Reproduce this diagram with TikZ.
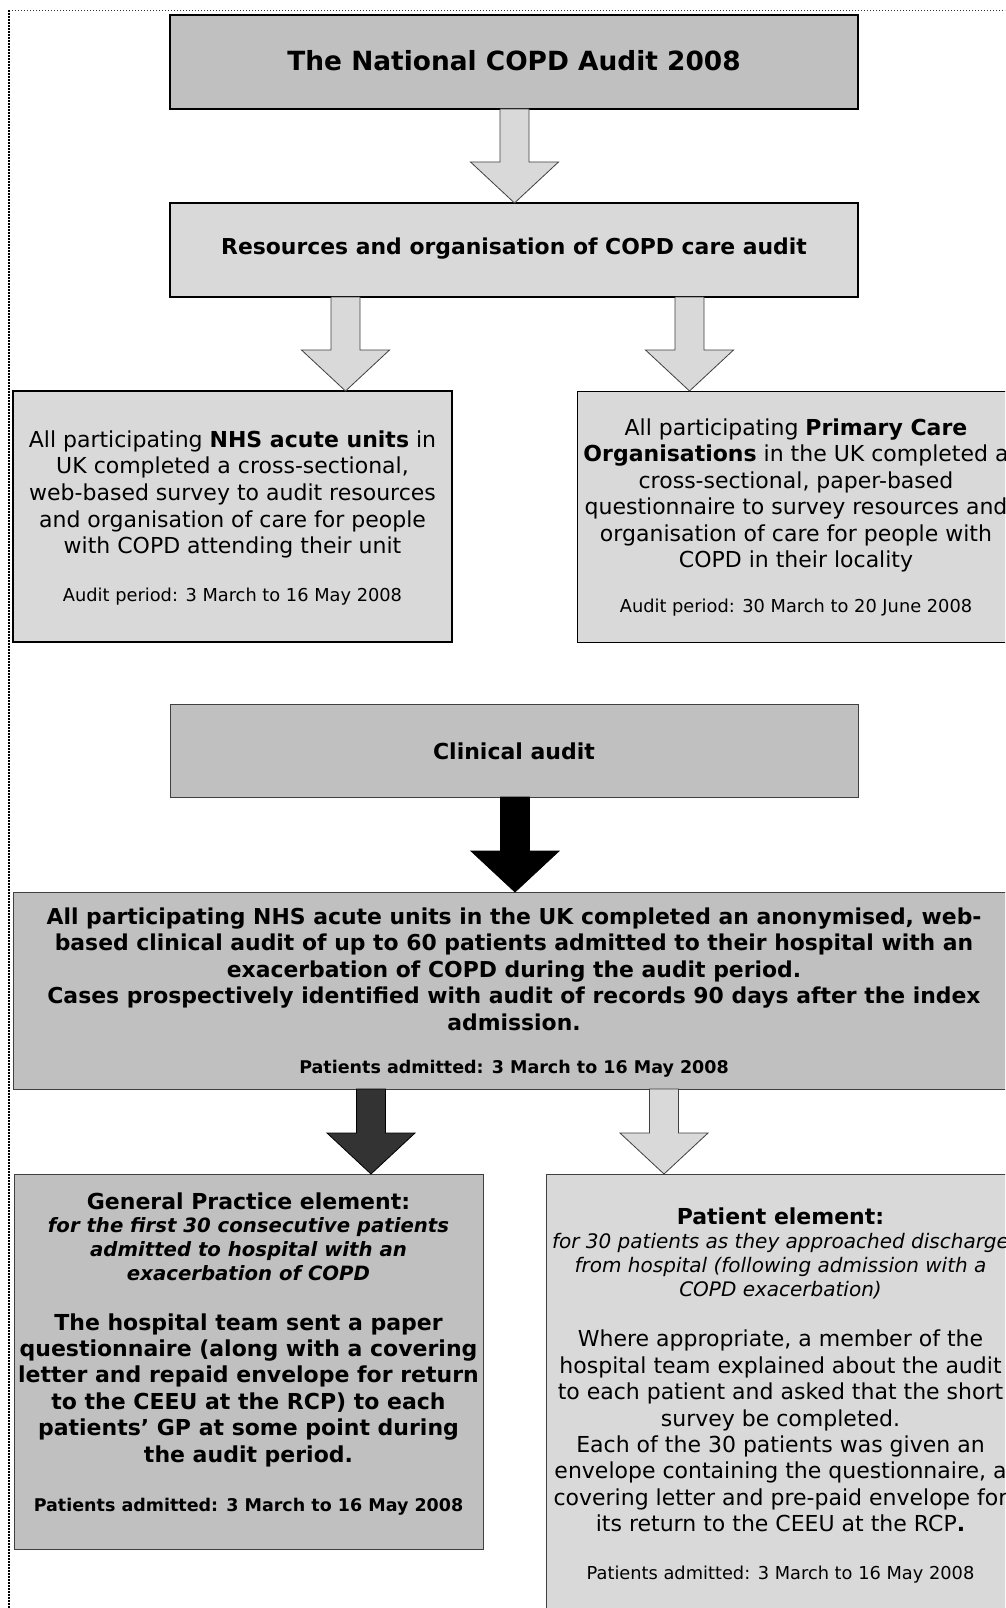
\documentclass[tikz,border=0pt]{standalone}
\usepackage{fontspec}
\setmainfont{DejaVu Sans}
\usetikzlibrary{calc}
\definecolor{gA}{HTML}{C0C0C0}
\definecolor{gB}{HTML}{D9D9D9}
\definecolor{gD}{HTML}{333333}
\definecolor{edge}{HTML}{404040}
\newcommand\fs[2]{\fontsize{#1}{#2}\selectfont}
\newcommand\blockarrow[4]{%
  \path[#1] let \p1=(#3.south), \p2=(#4.north) in
   ({(#2-14.5)*1pt},\y1) -- ({(#2+14.5)*1pt},\y1) -- ({(#2+14.5)*1pt},\y2+41pt)
   -- ({(#2+44)*1pt},\y2+41pt) -- ({#2*1pt},\y2) -- ({(#2-44)*1pt},\y2+41pt)
   -- ({(#2-14.5)*1pt},\y2+41pt) -- cycle;}
\tikzset{
  box/.style={rectangle, draw=black, inner sep=0pt, outer sep=0pt},
  txt/.style={align=center, inner sep=0pt, text=black},
  lightarrow/.style={fill=gB, draw=edge, line width=0.8pt, line join=miter},
  darkarrow/.style={fill=gD, draw=black, line width=0.8pt},
  blackarrow/.style={fill=black, draw=black, line width=0.8pt},
}
\begin{document}
\begin{tikzpicture}[x=1pt,y=-1pt]
\useasboundingbox (0,0) rectangle (1005,1608);
\clip (0,0) rectangle (1005,1608);
\fill[white] (0,0) rectangle (1005,1608);
% page frame
\draw[black!80, line width=0.8pt, dash pattern=on 1pt off 2pt] (9,10) -- (1005,10);
\draw[black, line width=2pt, dash pattern=on 2pt off 1pt] (9,10) -- (9,1608);
% boxes
\node[box, fill=gA, line width=2pt, minimum width=688, minimum height=94] (b1) at (514,62) {};
\node[box, fill=gB, line width=1.6pt, minimum width=688, minimum height=94] (b2) at (514,250) {};
\node[box, fill=gB, line width=2pt, minimum width=439, minimum height=251] (b3) at (232.5,516.5) {};
\node[box, fill=gB, line width=1pt, minimum width=448, minimum height=251] (b4) at (801,516.5) {};
\node[box, fill=gA, line width=1pt, draw=edge, minimum width=688, minimum height=93] (b5) at (514,750.5) {};
\node[box, fill=gA, line width=1pt, draw=edge, minimum width=1012, minimum height=197] (b6) at (519,990.5) {};
\node[box, fill=gA, line width=1pt, draw=edge, minimum width=469, minimum height=375] (b7) at (248.5,1361.5) {};
\node[box, fill=gB, line width=1pt, draw=edge, minimum width=479, minimum height=526] (b8) at (785.5,1437) {};
% arrows
\blockarrow{lightarrow}{514.5}{b1}{b2}
\blockarrow{lightarrow}{345.5}{b2}{b3}
\blockarrow{lightarrow}{689.5}{b2}{b4}
\blockarrow{blackarrow}{515}{b5}{b6}
\blockarrow{darkarrow}{371}{b6}{b7}
\blockarrow{lightarrow}{664}{b6}{b8}
% texts
\node[txt, font=\fs{26.4}{30}\bfseries] (t1) at (514,61) {The National COPD Audit 2008};
\node[txt, font=\fs{21.9}{24}\bfseries] (t2) at (514,249) {Resources and organisation of COPD care audit};
\node[txt, font=\fs{22}{26.7}] (t3) at (232.5,494.5) {All participating \textbf{NHS acute units} in\\UK completed a cross-sectional,\\web-based survey to audit resources\\and organisation of care for people\\with COPD attending their unit};
\node[txt, font=\fs{17.8}{20}] (t3b) at (232.5,597) {Audit period: 3 March to 16 May 2008};
\node[txt, font=\fs{22}{26.4}] (t4) at (796,495.5) {All participating \textbf{Primary Care}\\\textbf{Organisations} in the UK completed a\\cross-sectional, paper-based\\questionnaire to survey resources and\\organisation of care for people with\\COPD in their locality};
\node[txt, font=\fs{17.8}{20}] (t4b) at (796,608) {Audit period: 30 March to 20 June 2008};
\node[txt, font=\fs{22}{24}\bfseries] (t5) at (514,751) {Clinical audit};
\node[txt, font=\fs{21.9}{26.5}\bfseries] (t6) at (514,969) {All participating NHS acute units in the UK completed an anonymised, web-\\based clinical audit of up to 60 patients admitted to their hospital with an\\exacerbation of COPD during the audit period.\\Cases prospectively identified with audit of records 90 days after the index\\admission.};
\node[txt, font=\fs{17.5}{20}\bfseries] (t6b) at (514,1069) {Patients admitted: 3 March to 16 May 2008};
\node[txt, font=\fs{22}{26}\bfseries] (t7a) at (248.5,1201) {General Practice element:};
\node[txt, font=\fs{19.7}{24}\bfseries\itshape] (t7b) at (248.5,1249) {for the first 30 consecutive patients\\admitted to hospital with an\\exacerbation of COPD};
\node[txt, font=\fs{22}{26.4}\bfseries] (t7c) at (248.5,1390) {The hospital team sent a paper\\questionnaire (along with a covering\\letter and repaid envelope for return\\to the CEEU at the RCP) to each\\patients’ GP at some point during\\the audit period.};
\node[txt, font=\fs{17.5}{20}\bfseries] (t7d) at (248.5,1507) {Patients admitted: 3 March to 16 May 2008};
\node[txt, font=\fs{22}{26}\bfseries] (t8a) at (780.5,1216) {Patient element:};
\node[txt, font=\fs{20}{24.2}\itshape] (t8b) at (780.5,1266) {for 30 patients as they approached discharge\\from hospital (following admission with a\\COPD exacerbation)};
\node[txt, font=\fs{22}{26.4}] (t8c) at (780.5,1431) {Where appropriate, a member of the\\hospital team explained about the audit\\to each patient and asked that the short\\survey be completed.\\Each of the 30 patients was given an\\envelope containing the questionnaire, a\\covering letter and pre-paid envelope for\\its return to the CEEU at the RCP\textbf{.}};
\node[txt, font=\fs{17.8}{20}] (t8d) at (780.5,1575) {Patients admitted: 3 March to 16 May 2008};
\end{tikzpicture}
\end{document}
